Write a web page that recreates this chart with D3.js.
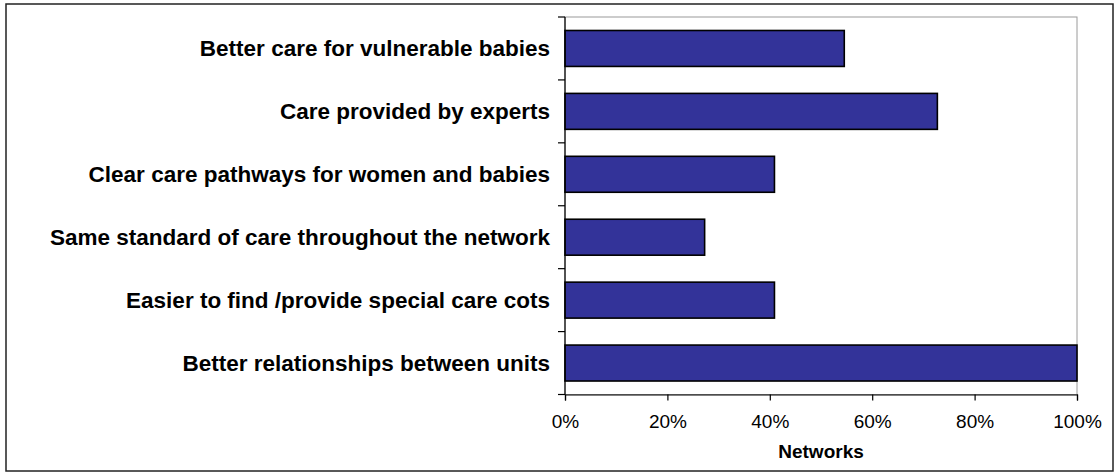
<!DOCTYPE html>
<html>
<head>
<meta charset="utf-8">
<script src="https://cdn.jsdelivr.net/npm/d3@7"></script>
<style>
  html, body { margin: 0; padding: 0; background: #fff; }
  svg { display: block; font-family: "Liberation Sans", Arial, sans-serif; }
</style>
</head>
<body>
<svg id="chart" width="1120" height="472"></svg>
<script>
// Benefits reported by networks (share of 22 networks)
const categories = [
  "Better care for vulnerable babies",
  "Care provided by experts",
  "Clear care pathways for women and babies",
  "Same standard of care throughout the network",
  "Easier to find /provide special care cots",
  "Better relationships between units"
];
const values = [12 / 22, 16 / 22, 9 / 22, 6 / 22, 9 / 22, 22 / 22];
const xTicks = [0, 0.2, 0.4, 0.6, 0.8, 1.0];
const xTitle = "Networks";

const svg = d3.select("#chart");

// outer chart frame
svg.append("rect")
  .attr("x", 6).attr("y", 4)
  .attr("width", 1107).attr("height", 467)
  .attr("fill", "#fff")
  .attr("stroke", "#222").attr("stroke-width", 1.5);

const plot = { left: 565, right: 1077, top: 17, bottom: 394.5 };

const x = d3.scaleLinear().domain([0, 1]).range([plot.left, plot.right]);
const y = d3.scaleBand()
  .domain(categories)
  .range([plot.top, plot.bottom])
  .paddingInner(0.4286)
  .paddingOuter(0.2143);

// plot area outline
svg.append("rect")
  .attr("x", plot.left).attr("y", plot.top)
  .attr("width", plot.right - plot.left).attr("height", plot.bottom - plot.top)
  .attr("fill", "none")
  .attr("stroke", "#9a9a9a").attr("stroke-width", 1);

// bars
svg.append("g").selectAll("rect")
  .data(categories)
  .join("rect")
  .attr("x", x(0))
  .attr("y", d => y(d))
  .attr("width", (d, i) => x(values[i]) - x(0))
  .attr("height", y.bandwidth())
  .attr("fill", "#333399")
  .attr("stroke", "#000")
  .attr("stroke-width", 1.6);

// category axis: ticks sit on band boundaries
const yAxisG = svg.append("g");
yAxisG.append("line")
  .attr("x1", plot.left).attr("x2", plot.left)
  .attr("y1", plot.top).attr("y2", plot.bottom)
  .attr("stroke", "#000").attr("stroke-width", 1.2);
const step = (plot.bottom - plot.top) / categories.length;
yAxisG.selectAll("line.tick")
  .data(d3.range(categories.length + 1))
  .join("line")
  .attr("class", "tick")
  .attr("x1", plot.left - 7).attr("x2", plot.left)
  .attr("y1", i => plot.top + i * step).attr("y2", i => plot.top + i * step)
  .attr("stroke", "#000").attr("stroke-width", 1.2);
yAxisG.selectAll("text")
  .data(categories)
  .join("text")
  .attr("x", plot.left - 15)
  .attr("y", d => y(d) + y.bandwidth() / 2)
  .attr("dy", "0.35em")
  .attr("text-anchor", "end")
  .attr("font-size", 22.5)
  .attr("font-weight", "bold")
  .attr("fill", "#000")
  .text(d => d);

// value axis
const xAxis = d3.axisBottom(x)
  .tickValues(xTicks)
  .tickFormat(d3.format(".0%"))
  .tickSize(6)
  .tickPadding(14);
const xAxisG = svg.append("g")
  .attr("transform", `translate(0,${plot.bottom})`)
  .call(xAxis);
xAxisG.select(".domain").attr("stroke", "#000").attr("stroke-width", 1.2);
xAxisG.selectAll(".tick line").attr("stroke", "#000").attr("stroke-width", 1.2);
xAxisG.selectAll(".tick text")
  .attr("font-size", 19)
  .attr("font-family", "'Liberation Sans', Arial, sans-serif")
  .attr("fill", "#000");

svg.append("text")
  .attr("x", (plot.left + plot.right) / 2)
  .attr("y", 458)
  .attr("text-anchor", "middle")
  .attr("font-size", 19)
  .attr("font-weight", "bold")
  .attr("fill", "#000")
  .text(xTitle);
</script>
</body>
</html>
